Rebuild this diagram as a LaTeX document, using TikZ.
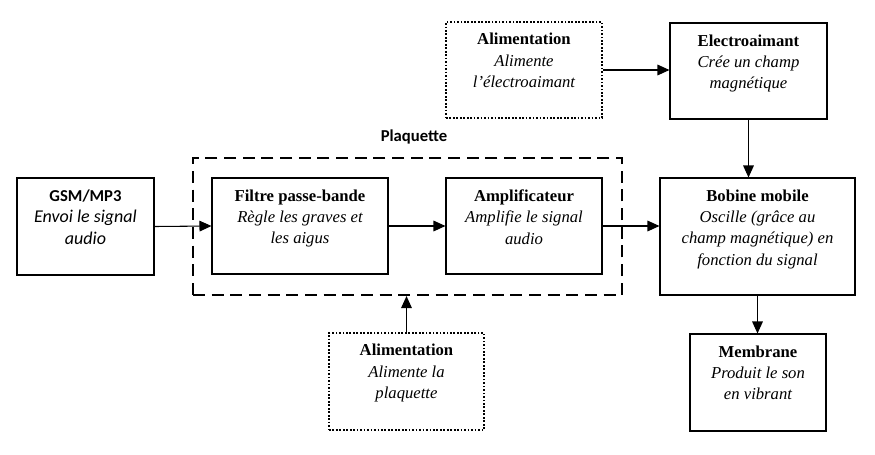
\documentclass[tikz,border=0pt]{standalone}
\usepackage{fontspec}
\setmainfont{Liberation Serif}
\newfontfamily\timesBloc{Liberation Serif}
\newfontfamily\carlito{Carlito}
\usetikzlibrary{arrows.meta,fit}
\tikzstyle{bloc}=[draw, line width=0.8pt, inner sep=0pt]
\tikzstyle{blocAlim}=[draw, line width=1.3pt, dash pattern=on 1.3pt off 1.3pt, inner sep=0pt]
\tikzstyle{blocPlaquette}=[draw, line width=1.6pt, dash pattern=on 9pt off 5pt, inner sep=0pt]
\tikzstyle{texteBloc}=[anchor=north, align=center, inner sep=0pt, font=\timesBloc\fontsize{12.5}{16}\selectfont]
\tikzstyle{fleche}=[line width=0.8pt, -{Triangle[length=9pt,width=8pt]}]

\begin{document}
\begin{tikzpicture}[x=0.75pt, y=-0.75pt]
\useasboundingbox (0,0) rectangle (875,454);
\node[blocPlaquette, fit={(193,158) (622,295)}] (plaquette) {};
\node[bloc, fit={(17,178) (154,275)}] (gsm) {};
\node[bloc, fit={(212,178) (388,274)}] (filtre) {};
\node[bloc, fit={(446,178) (602,274)}] (ampli) {};
\node[blocAlim, fit={(446,22) (602,118)}] (alimH) {};
\node[bloc, fit={(670,23) (827,119)}] (electro) {};
\node[bloc, fit={(660,178) (855,295)}] (bobine) {};
\node[bloc, fit={(690,334) (826,431)}] (membrane) {};
\node[blocAlim, fit={(329,333) (484,430)}] (alimB) {};
\node[font=\carlito\bfseries\fontsize{12.5}{15}\selectfont] (plaquetteT) at (414,137) {Plaquette};
\node[texteBloc] (gsmT) at ([yshift=-9pt]gsm.north) {{\carlito\bfseries GSM/MP3}\\{\carlito\itshape\fontsize{13.5}{16}\selectfont Envoi le signal}\\{\carlito\itshape\fontsize{13.5}{16}\selectfont audio}};
\node[texteBloc] (filtreT) at ([yshift=-9pt]filtre.north) {{\bfseries Filtre passe-bande}\\{\itshape Règle les graves et}\\{\itshape les aigus}};
\node[texteBloc] (ampliT) at ([yshift=-9pt]ampli.north) {{\bfseries Amplificateur}\\{\itshape Amplifie le signal}\\{\itshape audio}};
\node[texteBloc] (alimHT) at ([yshift=-9pt]alimH.north) {{\bfseries Alimentation}\\{\itshape Alimente}\\{\itshape l’électroaimant}};
\node[texteBloc] (electroT) at ([yshift=-9pt]electro.north) {{\bfseries Electroaimant}\\{\itshape Crée un champ}\\{\itshape magnétique}};
\node[texteBloc] (bobineT) at ([yshift=-9pt]bobine.north) {{\bfseries Bobine mobile}\\{\itshape Oscille (grâce au}\\{\itshape champ magnétique) en}\\{\itshape fonction du signal}};
\node[texteBloc] (membraneT) at ([yshift=-9pt]membrane.north) {{\bfseries Membrane}\\{\itshape Produit le son}\\{\itshape en vibrant}};
\node[texteBloc] (alimBT) at ([yshift=-9pt]alimB.north) {{\bfseries Alimentation}\\{\itshape Alimente la}\\{\itshape plaquette}};
\draw[fleche] (gsm.east) -- (filtre.west);
\draw[fleche] (filtre.east) -- (ampli.west);
\draw[fleche] (ampli.east) -- (ampli.east -| bobine.west);
\draw[fleche] (alimH.east) -- (alimH.east -| electro.west);
\draw[fleche] (electro.south) -- (electro.south |- bobine.north);
\draw[fleche] (bobine.south) -- (bobine.south |- membrane.north);
\draw[fleche] (alimB.north) -- (alimB.north |- plaquette.south);
\end{tikzpicture}
\end{document}
